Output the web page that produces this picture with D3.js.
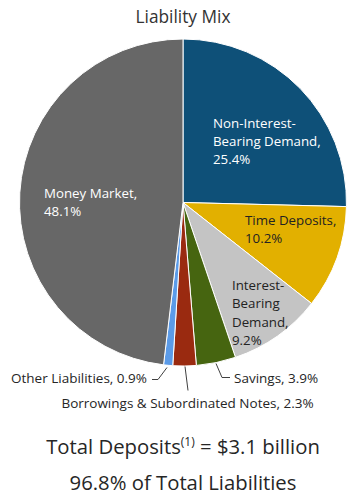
<!DOCTYPE html>
<html>
<head>
<meta charset="utf-8">
<script src="https://cdn.jsdelivr.net/npm/d3@7"></script>
<style>
  html, body { margin: 0; padding: 0; background: #fff; }
  svg { display: block; font-family: "Open Sans", sans-serif; }
</style>
</head>
<body>
<svg id="chart" width="347" height="497"></svg>
<script>
// Liability composition, clockwise from 12 o'clock
const categories = [
  "Non-Interest-Bearing Demand",
  "Time Deposits",
  "Interest-Bearing Demand",
  "Savings",
  "Borrowings & Subordinated Notes",
  "Other Liabilities",
  "Money Market"
];
const shares = [25.4, 10.2, 9.2, 3.9, 2.3, 0.9, 48.1];
const sliceColors = ["#0E5078", "#E2B000", "#C4C4C4", "#466510", "#9A2A10", "#5B9BE8", "#676767"];

const title = "Liability Mix";
const footerLines = ["Total Deposits", "(1)", " = $3.1 billion", "96.8% of Total Liabilities"];

const svg = d3.select("#chart");
const cx = 183, cy = 202.5, radius = 163.5;

svg.append("text")
  .attr("x", cx).attr("y", 23)
  .attr("text-anchor", "middle")
  .attr("font-size", 17.3)
  .attr("fill", "#333")
  .text(title);

const data = categories.map((c, i) => ({ name: c, value: shares[i], color: sliceColors[i] }));
const pie = d3.pie().value(d => d.value).sort(null);
const arc = d3.arc().innerRadius(0).outerRadius(radius);
const arcs = pie(data);

const g = svg.append("g").attr("transform", `translate(${cx},${cy})`);
g.selectAll("path.slice")
  .data(arcs)
  .join("path")
  .attr("class", "slice")
  .attr("d", arc)
  .attr("fill", d => d.data.color)
  .attr("stroke", "#fff")
  .attr("stroke-width", 1);

// In-slice labels: lines, anchor offset relative to the pie centre, colour
const fmt = v => v.toFixed(1) + "%";
const inside = [
  { idx: 0, lines: ["Non-Interest-", "Bearing Demand,"], dx: 30, dy: -75, fill: "#fff" },
  { idx: 1, lines: ["Time Deposits,"], dx: 62, dy: 22.5, fill: "#222" },
  { idx: 2, lines: ["Interest-", "Bearing", "Demand,"], dx: 49, dy: 87.5, fill: "#222" },
  { idx: 6, lines: ["Money Market,"], dx: -139, dy: -4.5, fill: "#fff" }
];
const lh = 18.3;
inside.forEach(l => {
  const t = g.append("text")
    .attr("font-size", 13.3)
    .attr("fill", l.fill);
  const lines = l.lines.concat([fmt(shares[l.idx])]);
  lines.forEach((s, k) => {
    t.append("tspan").attr("x", l.dx).attr("y", l.dy + k * lh).text(s);
  });
});

// Outside labels with leader lines (points relative to the pie centre)
const outside = [
  { idx: 5, text: "Other Liabilities, ", x: -36, y: 180.5, anchor: "end",
    line: [[-31, 177], [-25, 177], [-16, 165]] },
  { idx: 4, text: "Borrowings & Subordinated Notes, ", x: 4.5, y: 205.5, anchor: "middle",
    line: [[2, 164], [5, 188]] },
  { idx: 3, text: "Savings, ", x: 51, y: 180.5, anchor: "start",
    line: [[33, 161], [39, 175], [47, 175]] }
];
outside.forEach(o => {
  g.append("path")
    .attr("d", d3.line()(o.line))
    .attr("fill", "none")
    .attr("stroke", "#404040")
    .attr("stroke-width", 1);
  g.append("text")
    .attr("x", o.x).attr("y", o.y)
    .attr("text-anchor", o.anchor)
    .attr("font-size", 13.5)
    .attr("fill", "#262626")
    .text(o.text + fmt(shares[o.idx]));
});

const foot = svg.append("text")
  .attr("x", cx).attr("y", 454)
  .attr("text-anchor", "middle")
  .attr("font-size", 20.3)
  .attr("fill", "#262626");
foot.append("tspan").text(footerLines[0]);
foot.append("tspan").attr("font-size", 12).attr("dy", -8).text(footerLines[1]);
foot.append("tspan").attr("dy", 8).text(footerLines[2]);

svg.append("text")
  .attr("x", cx).attr("y", 490)
  .attr("text-anchor", "middle")
  .attr("font-size", 20.3)
  .attr("fill", "#262626")
  .text(footerLines[3]);
</script>
</body>
</html>
